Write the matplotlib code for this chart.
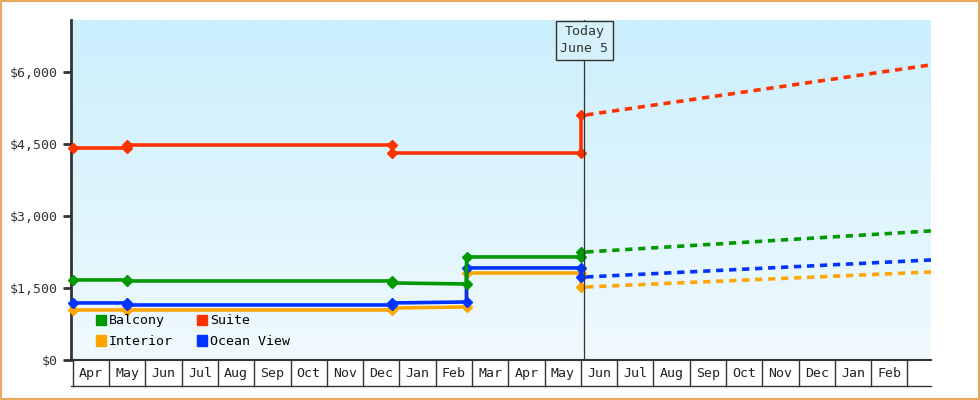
import matplotlib
matplotlib.use("Agg")
import matplotlib.pyplot as plt
import numpy as np
from matplotlib.patches import Patch, Rectangle
from matplotlib.colors import LinearSegmentedColormap

months = ["Apr","May","Jun","Jul","Aug","Sep","Oct","Nov","Dec","Jan","Feb","Mar",
          "Apr","May","Jun","Jul","Aug","Sep","Oct","Nov","Dec","Jan","Feb"]
# month index from start of first April
suite_x = [0, 1.5, 1.5, 8.8, 8.8, 14.0, 14.0]
suite_y = [4417, 4417, 4479, 4479, 4312, 4312, 5104]
balcony_x = [0, 1.5, 1.5, 8.8, 8.8, 10.85, 10.85, 14.0, 14.0]
balcony_y = [1667, 1667, 1646, 1646, 1604, 1583, 2146, 2146, 2250]
ocean_x = [0, 1.5, 1.5, 8.8, 8.8, 10.85, 10.85, 14.0, 14.0]
ocean_y = [1188, 1188, 1146, 1146, 1188, 1208, 1917, 1917, 1729]
interior_x = [0, 1.5, 1.5, 8.8, 8.8, 10.85, 10.85, 14.0, 14.0]
interior_y = [1042, 1042, 1042, 1042, 1083, 1104, 1812, 1812, 1521]
forecast_end_x = 23.65
suite_fc = [5104, 6146]
balcony_fc = [2250, 2688]
ocean_fc = [1729, 2083]
interior_fc = [1521, 1833]
today_x = 14.1

colors = {"Balcony": "#009900", "Suite": "#ff3300", "Interior": "#ffa500", "Ocean View": "#0033ff"}
plt.rcParams['font.family'] = ['DejaVu Sans Mono']

fig = plt.figure(figsize=(9.8, 4), dpi=100)
fig.patch.set_facecolor("white")
fig.patches.append(Rectangle((0, 0), 1, 1, transform=fig.transFigure, fill=False,
                             edgecolor="#e8a860", linewidth=3))
ax = fig.add_axes([71/980, 40/400, 860/980, 340/400])
xmin, xmax = -0.05, 23.65
ymax = 7080
ax.set_xlim(xmin, xmax)
ax.set_ylim(0, ymax)
grad = np.linspace(0, 1, 256).reshape(-1, 1)
cmap = LinearSegmentedColormap.from_list("bg", ["#f0fafe", "#cbeffc"])
ax.imshow(grad, aspect="auto", cmap=cmap, origin="lower",
          extent=[xmin, xmax, 0, ymax], zorder=0)

series = [("Interior", interior_x, interior_y, interior_fc),
          ("Ocean View", ocean_x, ocean_y, ocean_fc),
          ("Balcony", balcony_x, balcony_y, balcony_fc),
          ("Suite", suite_x, suite_y, suite_fc)]
for name, xs, ys, fc in series:
    c = colors[name]
    ax.plot(xs, ys, color=c, lw=2.6, marker="D", ms=5, zorder=3, clip_on=False)
    ax.plot([xs[-1] + 0.15, forecast_end_x], fc, color=c, lw=2.6, ls=(0, (2, 1.6)), zorder=3, clip_on=False)

ax.axvline(today_x, color="#333333", lw=0.9, zorder=4)
ax.text(today_x, ymax - 420, "Today\nJune 5", ha="center", va="center", fontsize=9.5,
        color="#333333", linespacing=1.4,
        bbox=dict(boxstyle="square,pad=0.35", fc="#d4f1fc", ec="#333333", lw=1), zorder=5)

for s in ["top", "right", "bottom"]:
    ax.spines[s].set_visible(False)
ax.spines["left"].set_color("#333333")
ax.spines["left"].set_linewidth(2)
ax.set_yticks([0, 1500, 3000, 4500, 6000])
ax.set_yticklabels(["$0", "$1,500", "$3,000", "$4,500", "$6,000"], fontsize=9.5, color="#333333")
ax.tick_params(axis="y", length=6, width=2, color="#333333")
ax.set_xticks([])

# month boxes
xt = ax.get_xaxis_transform()
ax.plot([xmin, xmax], [0, 0], transform=xt, color="#333333", lw=1.5, clip_on=False)
ax.plot([xmin, xmax], [-0.075, -0.075], transform=xt, color="#333333", lw=1, clip_on=False)
for i, m in enumerate(months):
    ax.plot([i, i], [0, -0.075], transform=xt, color="#333333", lw=1, clip_on=False)
    ax.text(i + 0.5, -0.04, m, transform=xt, ha="center", va="center",
            fontsize=9.5, color="#222222")
ax.plot([len(months)] * 2, [0, -0.075], transform=xt, color="#333333", lw=1, clip_on=False)

handles = [Patch(color=colors[n]) for n in ["Balcony", "Interior", "Suite", "Ocean View"]]
ax.legend(handles, ["Balcony", "Interior", "Suite", "Ocean View"], ncol=2, loc="lower left",
          bbox_to_anchor=(0.015, 0.0), frameon=False, fontsize=9.5, handlelength=0.8,
          handleheight=0.8, handletextpad=0.2, columnspacing=1.8, labelspacing=0.6)

fig.savefig("out.png", dpi=100)
